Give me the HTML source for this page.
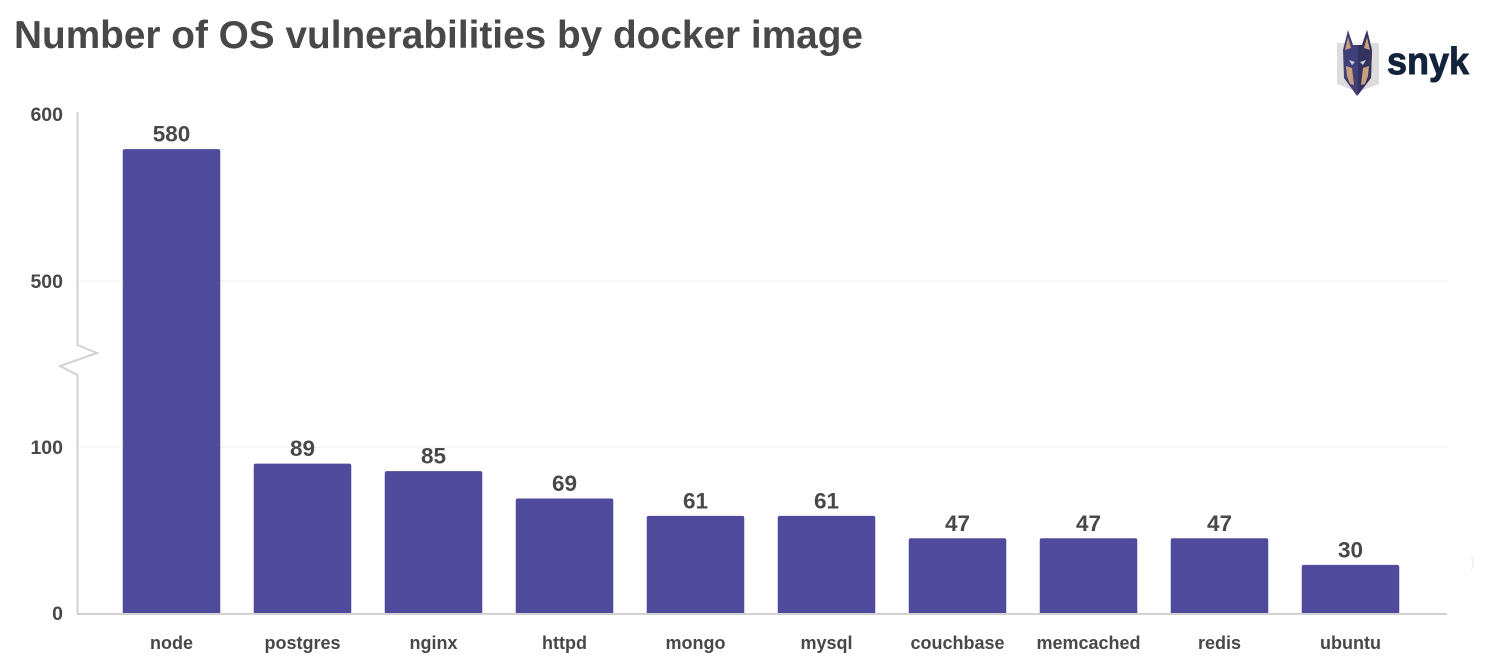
<!DOCTYPE html>
<html lang="en">
<head>
<meta charset="utf-8">
<title>Number of OS vulnerabilities by docker image</title>
<style>
html,body{margin:0;padding:0;background:#fff;width:1485px;height:661px;overflow:hidden}
svg{display:block}
text{font-family:"Liberation Sans",sans-serif;font-weight:700;fill:#484848}
</style>
</head>
<body>
<svg id="chart" width="1485" height="661" viewBox="0 0 1485 661" xmlns="http://www.w3.org/2000/svg">
  <text x="14" y="48" font-size="38.5" textLength="849" lengthAdjust="spacingAndGlyphs">Number of OS vulnerabilities by docker image</text>

  <g>
    <polygon points="1337,43 1379,43 1379,84 1358,92 1337,84" fill="#dcdcdc"/>
    <polygon points="1345,42 1371,42 1371,60 1345,60" fill="#f2f2f2"/>
    <polygon points="1348,30 1353,45 1362,45 1367,30 1372,50 1371,78 1357,96 1344,78 1343,50" fill="#413f78"/>
    <polygon points="1358,45 1362,45 1367,30 1372,50 1371,78 1358,95" fill="#34325f"/>
    <polygon points="1348,37 1345,50 1351,48" fill="#c9a07c"/>
    <polygon points="1367,37 1370,50 1364,48" fill="#c9a07c"/>
    <polygon points="1346,66 1352,68 1354,85 1350,84 1347,76" fill="#c9a07c"/>
    <polygon points="1369,66 1363,68 1361,85 1365,84 1368,76" fill="#c9a07c"/>
    <polygon points="1349,60 1355,62 1352,65" fill="#c8cbd8"/>
    <polygon points="1366,60 1360,62 1363,65" fill="#c8cbd8"/>
    <text x="1387" y="74" font-size="38" textLength="82" lengthAdjust="spacingAndGlyphs" style="fill:#14233c;stroke:#14233c;stroke-width:0.9">snyk</text>
  </g>

  <g id="grid"></g>
  <g id="bars"></g>
  <g id="axes"></g>
  <g id="labels"></g>

  <path d="M1470,554 Q1478,562 1470,572 Q1474,563 1470,554Z" fill="#eeedf8"/>
</svg>
<script>
const categories = ["node","postgres","nginx","httpd","mongo","mysql","couchbase","memcached","redis","ubuntu"];
const printedValues = [580,89,85,69,61,61,47,47,47,30];
const barValues = [579,90,85.5,69,58.5,58.5,45,45,45,29];
const yTicks = [0,100,500,600];
const gridTicks = [100,500];

const NS = "http://www.w3.org/2000/svg";
const plotLeft = 106, bandStep = 131, barWidth = 97.5;
const yBase = 613, yUnit = 1.66, yTopUnit = 1.67, yBreakSpan = 400, yBreakPx = 166;

function yScale(v) {
  if (v <= 100) return yBase - v * yUnit;
  if (v <= 500) return yBase - 100 * yUnit - (v - 100) / yBreakSpan * yBreakPx;
  return yBase - 100 * yUnit - yBreakPx - (v - 500) * yTopUnit;
}
function xCenter(i) { return plotLeft + bandStep * (i + 0.5); }
function make(tag, attrs, parent) {
  const el = document.createElementNS(NS, tag);
  for (const k in attrs) el.setAttribute(k, attrs[k]);
  parent.appendChild(el);
  return el;
}

const gridG = document.getElementById("grid");
const barsG = document.getElementById("bars");
const axesG = document.getElementById("axes");
const labelsG = document.getElementById("labels");

gridTicks.forEach(function (t) {
  const y = yScale(t);
  const line = make("line", {x1: 79, x2: 1447, y1: y, y2: y, stroke: "#f6f6f6", "stroke-width": 2}, gridG);
  
  
});

categories.forEach(function (c, i) {
  const cx = xCenter(i), y = yScale(barValues[i]);
  const bar = make("path", {
    d: "M" + (cx - barWidth / 2) + "," + yBase + "V" + (y + 2) + "q0,-2 2,-2H" + (cx + barWidth / 2 - 2) + "q2,0 2,2V" + yBase + "Z",
    fill: "#4f4a9b"
  }, barsG);
  
  

  const val = make("text", {x: cx, y: y - 7.5, "text-anchor": "middle", "font-size": 22.5}, labelsG);
  val.textContent = printedValues[i];
  
  

  const cat = make("text", {x: cx, y: 649, "text-anchor": "middle", "font-size": 18}, labelsG);
  cat.textContent = c;
  
  
});

yTicks.forEach(function (t) {
  const lab = make("text", {x: 63, y: yScale(t) + 7, "text-anchor": "end", "font-size": 19.5}, labelsG);
  lab.textContent = t;
  
  
});

const yAxis = make("polyline", {
  points: "77.5,112 77.5,345 97,353 60,366 77.5,375 77.5,614",
  fill: "none", stroke: "#d2d2d2", "stroke-width": 2
}, axesG);



const xAxis = make("line", {x1: 76.5, x2: 1447, y1: 614, y2: 614, stroke: "#d2d2d2", "stroke-width": 2}, axesG);


</script>
</body>
</html>
